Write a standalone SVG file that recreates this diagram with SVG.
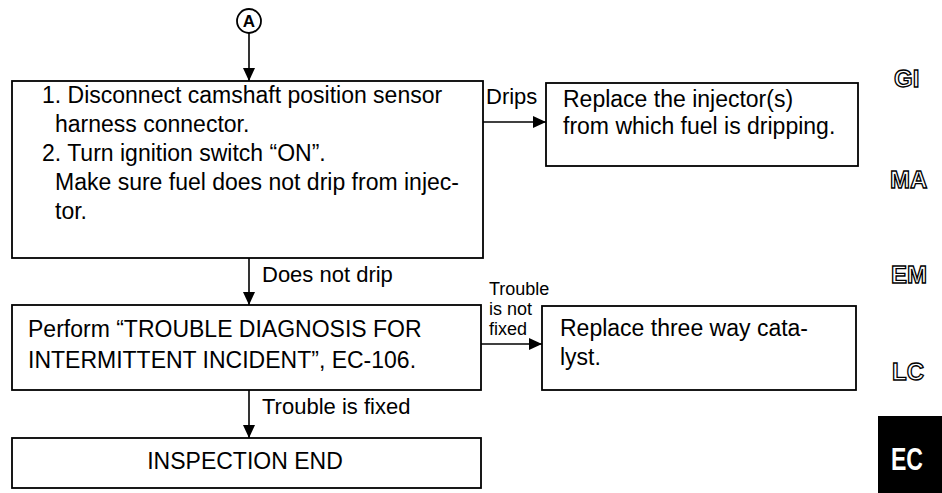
<svg xmlns="http://www.w3.org/2000/svg" width="942" height="493" viewBox="0 0 942 493">
<style>
.box{fill:#fff;stroke:#000;stroke-width:1.8}
.t{font-family:"Liberation Sans",Arial,sans-serif;font-size:23px;fill:#000}
.lbl{font-family:"Liberation Sans",Arial,sans-serif;font-size:22px;fill:#000}
.sm{font-family:"Liberation Sans",Arial,sans-serif;font-size:18px;fill:#000}
.ln{stroke:#000;stroke-width:1.6;fill:none}
.side{font-family:"Liberation Sans",Arial,sans-serif;font-size:24px;font-weight:bold;fill:#fff;stroke:#000;stroke-width:1.3}
</style>
<defs>
<marker id="ah" markerWidth="13" markerHeight="12" refX="13" refY="6" orient="auto" markerUnits="userSpaceOnUse">
<path d="M0,0 L13,6 L0,12 Z" fill="#000"/>
</marker>
</defs>
<rect width="942" height="493" fill="#fff"/>

<g id="connector-A">
<circle cx="249" cy="21" r="12" fill="#fff" stroke="#000" stroke-width="1.8"/>
<text x="249" y="27" text-anchor="middle" style="font-family:'Liberation Sans',Arial,sans-serif;font-size:17px;font-weight:bold">A</text>
</g>

<g id="connectors">
<line class="ln" x1="249" y1="33" x2="249" y2="81" marker-end="url(#ah)"/>
<line class="ln" x1="483" y1="122" x2="546" y2="122" marker-end="url(#ah)"/>
<line class="ln" x1="249" y1="258" x2="249" y2="305" marker-end="url(#ah)"/>
<line class="ln" x1="481" y1="344" x2="542" y2="344" marker-end="url(#ah)"/>
<line class="ln" x1="249" y1="390" x2="249" y2="438" marker-end="url(#ah)"/>
<text class="lbl" x="486" y="104">Drips</text>
<text class="lbl" x="262" y="282">Does not drip</text>
<text class="sm" x="489" y="295">Trouble</text>
<text class="sm" x="489" y="315">is not</text>
<text class="sm" x="489" y="335">fixed</text>
<text class="lbl" x="262" y="414">Trouble is fixed</text>
</g>

<g id="step1">
<rect class="box" x="12" y="81" width="471" height="177"/>
<text class="t" x="42" y="103">1. Disconnect camshaft position sensor</text>
<text class="t" x="55" y="132">harness connector.</text>
<text class="t" x="42" y="161">2. Turn ignition switch “ON”.</text>
<text class="t" x="55" y="190">Make sure fuel does not drip from injec-</text>
<text class="t" x="55" y="219">tor.</text>
</g>

<g id="replace-injector">
<rect class="box" x="546" y="83" width="312" height="83"/>
<text class="t" x="563" y="107">Replace the injector(s)</text>
<text class="t" x="563" y="134">from which fuel is dripping.</text>
</g>

<g id="perform-diagnosis">
<rect class="box" x="12" y="305" width="469" height="85"/>
<text class="t" x="28" y="337">Perform “TROUBLE DIAGNOSIS FOR</text>
<text class="t" x="28" y="368">INTERMITTENT INCIDENT”, EC-106.</text>
</g>

<g id="replace-catalyst">
<rect class="box" x="542" y="306" width="314" height="84"/>
<text class="t" x="560" y="336">Replace three way cata-</text>
<text class="t" x="560" y="365">lyst.</text>
</g>

<g id="inspection-end">
<rect class="box" x="12" y="438" width="469" height="50"/>
<text class="t" x="245" y="469" text-anchor="middle">INSPECTION END</text>
</g>

<g id="side-tabs">
<text class="side" x="894" y="87">GI</text>
<text class="side" x="890" y="188">MA</text>
<text class="side" x="891" y="283">EM</text>
<text class="side" x="892" y="380">LC</text>
<rect x="878" y="416" width="64" height="77" fill="#000"/>
<text transform="translate(907,470) scale(0.72,1)" text-anchor="middle" style="font-family:'Liberation Sans',Arial,sans-serif;font-size:32px;font-weight:bold;fill:#fff">EC</text>
</g>
</svg>
